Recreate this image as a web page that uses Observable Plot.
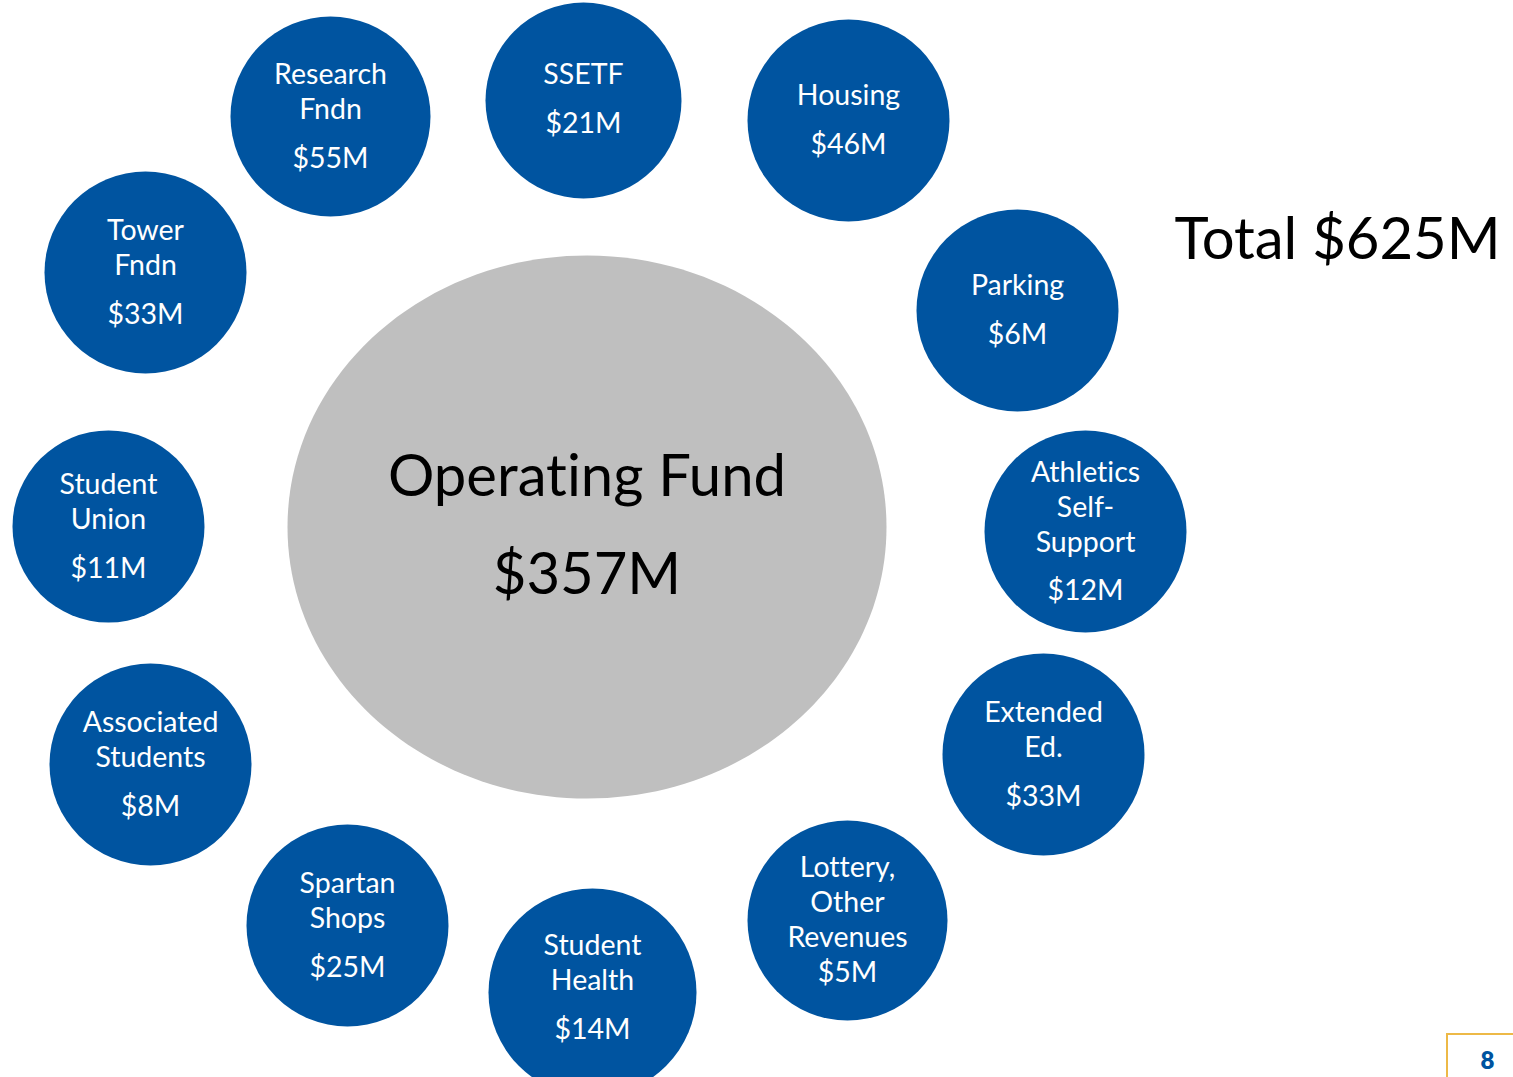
<!DOCTYPE html>
<html>
<head>
<meta charset="utf-8">
<script src="https://cdn.jsdelivr.net/npm/d3@7"></script>
<script src="https://cdn.jsdelivr.net/npm/@observablehq/plot@0.6"></script>
<style>
  html, body { margin: 0; padding: 0; background: #fff; overflow: hidden; }
  #wrap { position: relative; width: 1513px; height: 1077px; }
  #page {
    position: absolute; left: 1446px; top: 1033px; width: 67px; height: 44px;
    border-left: 2px solid #EDB947; border-top: 2px solid #EDB947; box-sizing: border-box;
    font-family: Lato, "Open Sans", sans-serif; font-weight: 800; font-size: 24px; color: #0054A0;
    text-align: center; line-height: 50px; padding-left: 14px;
  }
  svg { font-family: Lato, "Open Sans", sans-serif; font-variant-ligatures: none; }
</style>
</head>
<body>
<div id="wrap"><div id="page">8</div></div>
<script>
// ---- data ----
const centerName = "Operating Fund";
const centerValue = 357;            // $M
const total = 625;                  // $M
const categories = [
  "Research\nFndn", "SSETF", "Housing", "Parking",
  "Athletics\nSelf-\nSupport", "Extended\nEd.", "Lottery,\nOther\nRevenues",
  "Student\nHealth", "Spartan\nShops", "Associated\nStudents",
  "Student\nUnion", "Tower\nFndn"
];
const values = [55, 21, 46, 6, 12, 33, 5, 14, 25, 8, 11, 33]; // $M

// ---- layout (slide slots, in page units) ----
const slotX = [330, 583, 848, 1017, 1085, 1043, 847, 592, 347, 150, 108, 145];
const slotY = [116, 100, 120, 310, 531, 754, 920, 992, 925, 764, 526, 272];
const slotR = [100, 98, 101, 101, 101, 101, 100, 104, 101, 101, 96, 101];
const textShift = [0, -1, 0, 0, 0, 0, 0, -5, 0, 0, 0, 0];
const valueGap = [49, 49, 49, 49, 48, 49, 35, 49, 49, 49, 49, 49];
const centerSlot = {x: 586.5, y: 526.5, ry: 271.5, aspect: 299.5 / 271.5};
const totalSlot = {x: 1337, y: 240};
const W = 1513, H = 1077;
const BLUE = "#0054A0", GREY = "#BFBFBF";
const lineStep = 35;

const fmt = v => `$${v}M`;

const circles = categories.map((c, i) => ({name: c, value: values[i], x: slotX[i], y: slotY[i], r: slotR[i]}));

// label lines, vertically centred in each circle
const labelRows = [];
circles.forEach((d, i) => {
  const lines = d.name.split("\n");
  const pos = lines.map((_, k) => k * lineStep);
  const vPos = pos[pos.length - 1] + valueGap[i];
  const mid = vPos / 2 - textShift[i];
  lines.forEach((t, k) => labelRows.push({text: t, x: d.x, y: d.y + pos[k] - mid}));
  labelRows.push({text: fmt(d.value), x: d.x, y: d.y + vPos - mid});
});

// ellipse symbol for the central fund
const ellipseSymbol = {
  draw(context, size) {
    const ry = Math.sqrt(size / Math.PI);
    const rx = ry * centerSlot.aspect;
    const k = 0.5522847;
    context.moveTo(rx, 0);
    context.bezierCurveTo(rx, k * ry, k * rx, ry, 0, ry);
    context.bezierCurveTo(-k * rx, ry, -rx, k * ry, -rx, 0);
    context.bezierCurveTo(-rx, -k * ry, -k * rx, -ry, 0, -ry);
    context.bezierCurveTo(k * rx, -ry, rx, -k * ry, rx, 0);
    context.closePath();
  }
};

const center = [{name: centerName, value: centerValue, x: centerSlot.x, y: centerSlot.y, r: centerSlot.ry}];

const chart = Plot.plot({
  width: W, height: H,
  margin: 0,
  x: {domain: [0, W], range: [0, W], axis: null},
  y: {domain: [0, H], range: [0, H], axis: null},
  r: {type: "identity"},
  marks: [
    Plot.dot(center, {x: "x", y: "y", r: "r", symbol: ellipseSymbol, fill: GREY, stroke: "none"}),
    Plot.text(center, {x: "x", y: d => d.y - 50, text: "name", fontSize: 58, fill: "#000", textAnchor: "middle", lineAnchor: "middle"}),
    Plot.text(center, {x: "x", y: d => d.y + 48, text: d => fmt(d.value), fontSize: 58, fill: "#000", textAnchor: "middle", lineAnchor: "middle"}),
    Plot.dot(circles, {x: "x", y: "y", r: "r", fill: BLUE, stroke: "none"}),
    Plot.text(labelRows, {x: "x", y: "y", text: "text", fontSize: 28.5, fill: "#fff", textAnchor: "middle", lineAnchor: "middle"}),
    Plot.text([totalSlot], {x: "x", y: "y", text: () => `Total ${fmt(total)}`, fontSize: 58, fill: "#000", textAnchor: "middle", lineAnchor: "middle"})
  ]
});
document.getElementById("wrap").prepend(chart);
</script>
</body>
</html>
